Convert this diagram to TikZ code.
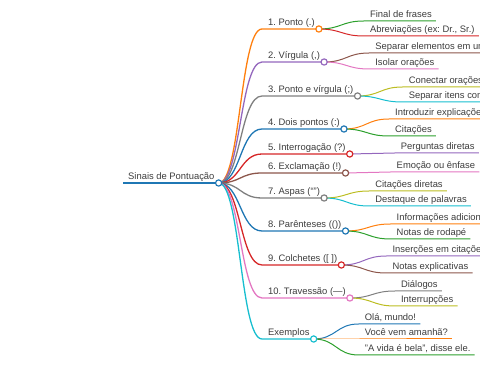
\documentclass[tikz,border=0pt]{standalone}
\usepackage{fontspec}
\setmainfont{Liberation Sans}
\usepackage{xcolor}
\usepackage{tikz}
\usetikzlibrary{calc}
\frenchspacing
\definecolor{txt}{HTML}{3C3C3C}
\definecolor{cBlue}{HTML}{1F77B4}
\definecolor{cOrange}{HTML}{FF7F0E}
\definecolor{cGreen}{HTML}{2CA02C}
\definecolor{cRed}{HTML}{D62728}
\definecolor{cPurple}{HTML}{9467BD}
\definecolor{cBrown}{HTML}{8C564B}
\definecolor{cPink}{HTML}{E377C2}
\definecolor{cGray}{HTML}{7F7F7F}
\definecolor{cOlive}{HTML}{BCBD22}
\definecolor{cCyan}{HTML}{17BECF}

\begin{document}
\begin{tikzpicture}[x=1pt,y=-1pt,
  every node/.style={font=\fontsize{9.4}{11}\selectfont,text=txt,inner sep=0pt},
  lzero/.style={line width=1.7pt},
  lone/.style={line width=1.3pt},
  ltwo/.style={line width=1pt},
  knob/.style={circle,draw=#1,fill=white,line width=1.2pt,minimum size=6.2pt,inner sep=0pt}]
  \useasboundingbox (0,0) rectangle (480,379);
  \clip (0,0) rectangle (480,379);
  % the root
  \coordinate (r0) at (123,183);
  \node[anchor=base west] (troot) at (128,179.5) {Sinais de Pontuação};
  \coordinate (root) at ($(troot.east |- r0)+(4,0)$);
  \draw[lzero,cBlue] (r0) -- (root);
  % first level: the signs
  \foreach \id/\y/\col/\txt in {
      1/29/cOrange/{1. Ponto (.)},
      2/62/cPurple/{2. Vírgula (,)},
      3/96/cGray/{3. Ponto e vírgula (;)},
      4/129/cBlue/{4. Dois pontos (:)},
      5/154/cRed/{5. Interrogação (?)},
      6/173/cBrown/{6. Exclamação (!)},
      7/198/cGray/{7. Aspas (“”)},
      8/231/cBlue/{8. Parênteses (())},
      9/265/cRed/{9. Colchetes ([ ])},
      10/298/cPink/{10. Travessão (—)},
      ex/339/cCyan/{Exemplos}} {
    \coordinate (p\id) at (262,\y);
    \node[anchor=base west] (t\id) at (268,\y-3.5) {\txt};
    \coordinate (c\id) at ($(t\id.east |- p\id)+(4,0)$);
    \draw[lone,\col] (root) .. controls +(22,0) and +(-22,0) .. (p\id) -- (c\id);
  }
  % second level: the uses
  \foreach \up/\id/\y/\col/\txt in {
      1/1a/21/cGreen/{Final de frases},
      1/1b/36/cRed/{Abreviações (ex: Dr., Sr.)},
      2/2a/53/cBrown/{Separar elementos em uma lista},
      2/2b/69/cPink/{Isolar orações},
      3/3a/87/cOlive/{Conectar orações relacionadas},
      3/3b/102/cCyan/{Separar itens complexos},
      4/4a/119/cOrange/{Introduzir explicações},
      4/4b/136/cGreen/{Citações},
      5/5a/153/cPurple/{Perguntas diretas},
      6/6a/172/cPink/{Emoção ou ênfase},
      7/7a/191/cOlive/{Citações diretas},
      7/7b/206/cCyan/{Destaque de palavras},
      8/8a/224/cOrange/{Informações adicionais},
      8/8b/239/cGreen/{Notas de rodapé},
      9/9a/256/cPurple/{Inserções em citações},
      9/9b/273/cBrown/{Notas explicativas},
      10/10a/291/cGray/{Diálogos},
      10/10b/306/cOlive/{Interrupções},
      ex/exa/324/cBlue/{Olá, mundo!},
      ex/exb/339/cOrange/{Você vem amanhã?},
      ex/exc/355/cGreen/{"A vida é bela", disse ele.}} {
    \coordinate (h\id) at (0,\y);
    \coordinate (p\id) at ($(c\up |- h\id)+(45,0)$);
    \node[anchor=base west] (t\id) at ($(p\id)+(6,-3.5)$) {\txt};
    \draw[ltwo,\col] (c\up) .. controls +(22.5,0) and +(-22.5,0) .. (p\id)
      -- ($(t\id.east |- p\id)+(4,0)$);
  }
  % the knobs on top
  \node[knob=cBlue] (droot) at (root) {};
  \foreach \id/\col in {1/cOrange,2/cPurple,3/cGray,4/cBlue,5/cRed,6/cBrown,
      7/cGray,8/cBlue,9/cRed,10/cPink,ex/cCyan}
    \node[knob=\col] (d\id) at (c\id) {};
\end{tikzpicture}
\end{document}
